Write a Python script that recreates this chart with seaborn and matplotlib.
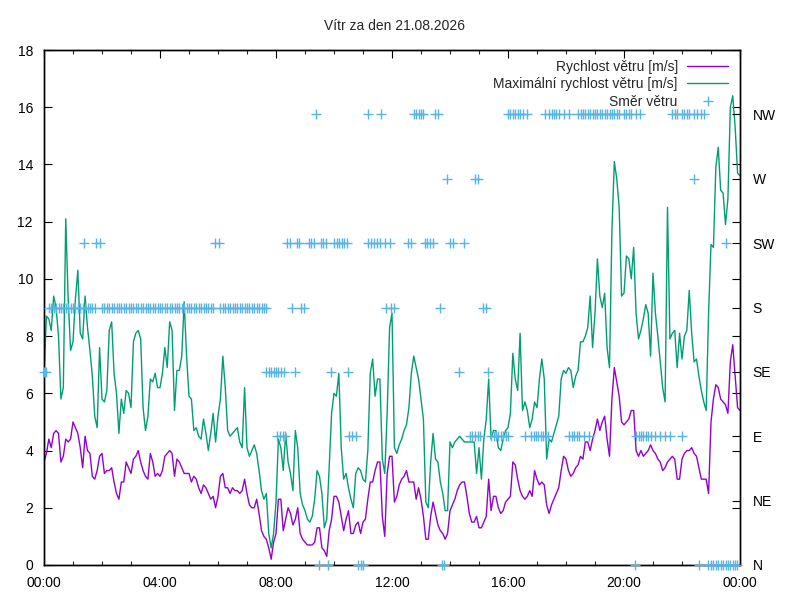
import numpy as np
import pandas as pd
import matplotlib
matplotlib.use("Agg")
import matplotlib.pyplot as plt
from matplotlib.lines import Line2D
import seaborn as sns

# ---- data (5-minute samples, minutes after midnight) ----
minutes = list(range(0, 1441, 5))

speed = [
    3.6, 3.9, 4.4, 4.1, 4.6, 4.7, 4.6, 3.6, 3.8, 4.4, 4.3, 4.4, 5.0, 4.8, 4.6, 4.1, 3.4, 4.5, 4.0, 3.9,
    3.1, 3.0, 3.3, 3.8, 3.9, 3.2, 3.3, 3.3, 3.4, 2.9, 2.5, 2.3, 2.9, 2.9, 3.6, 3.4, 3.2, 3.7, 3.8, 4.0,
    3.6, 3.3, 3.1, 3.0, 3.9, 3.6, 3.1, 3.2,
    3.1, 3.3, 3.8, 3.9, 4.0, 3.9, 3.1, 3.7, 3.6, 3.4, 3.2, 3.2, 3.2, 2.9, 3.1, 3.0, 2.7, 2.5, 2.8, 2.7,
    2.5, 2.3, 2.4, 2.0, 2.4, 3.1, 3.2, 2.7, 2.7, 2.5, 2.7, 2.6, 2.6, 2.5, 2.6, 3.0, 2.5, 2.1, 2.0, 2.0,
    2.3, 1.8, 1.2, 1.0, 0.9, 0.6, 0.2, 0.8,
    1.1, 2.3, 2.3, 1.2, 1.6, 2.0, 1.8, 1.4, 1.6, 2.0, 1.1, 0.9, 0.8, 0.7, 0.7, 0.7, 0.8, 1.3, 1.3, 0.6,
    0.5, 0.3, 1.2, 1.6, 2.4, 2.4, 2.2, 1.7, 1.2, 1.6, 1.9, 1.1, 1.1, 1.4, 1.5, 1.1, 1.5, 1.6, 2.3, 2.9,
    2.9, 3.3, 3.6, 3.6, 1.7, 1.0, 3.2, 3.8,
    3.8, 2.2, 2.4, 2.8, 3.0, 3.1, 3.3, 2.9, 2.9, 2.9, 2.3, 2.7, 2.3, 1.7, 0.9, 0.9, 1.7, 2.2, 1.8, 1.4,
    1.2, 1.1, 0.9, 1.1, 1.9, 2.1, 2.3, 2.6, 2.8, 2.9, 2.9, 2.4, 1.8, 1.5, 1.5, 1.7, 1.3, 1.3, 1.5, 1.7,
    3.0, 1.9, 2.4, 2.4, 2.0, 1.8, 1.9, 2.2,
    2.3, 2.4, 3.6, 3.5, 3.0, 2.6, 2.4, 2.3, 2.4, 2.6, 2.4, 3.3, 3.0, 2.8, 2.9, 2.8, 2.1, 1.8, 2.1, 2.3,
    2.5, 2.7, 3.3, 3.8, 3.7, 3.3, 3.1, 3.2, 3.4, 3.5, 3.8, 3.7, 4.3, 4.3, 4.0, 4.4, 4.7, 5.1, 4.7, 5.0,
    5.2, 4.4, 3.8, 5.8, 6.9, 6.4, 5.9, 5.0,
    4.9, 5.0, 5.1, 5.4, 5.4, 4.0, 3.8, 4.0, 3.8, 3.9, 4.0, 4.2, 4.0, 3.9, 3.7, 3.6, 3.3, 3.4, 3.6, 3.7,
    3.8, 3.7, 3.0, 3.0, 3.7, 3.9, 4.0, 4.0, 4.1, 3.9, 3.8, 3.4, 3.0, 3.0, 3.0, 2.5, 5.0, 5.8, 6.3, 6.2,
    5.8, 5.7, 5.6, 5.3, 7.1, 7.7, 6.6, 5.5, 5.4,
]

gust = [
    6.6, 8.7, 8.6, 8.2, 9.4, 9.0, 8.0, 5.8, 6.2, 12.1, 9.3, 7.5, 7.8, 9.3, 10.3, 8.1, 7.9, 9.4, 8.3, 7.5,
    6.6, 5.2, 4.8, 7.6, 5.8, 5.7, 6.1, 8.2, 8.5, 6.7, 6.0, 4.6, 5.8, 5.3, 6.1, 6.0, 5.5, 7.8, 8.1, 8.2,
    7.9, 5.5, 4.7, 5.2, 6.5, 6.4, 6.7, 6.2,
    6.2, 6.7, 7.6, 6.9, 8.5, 8.2, 5.4, 6.8, 6.8, 7.3, 9.2, 7.3, 5.9, 5.8, 4.7, 4.8, 4.5, 4.4, 5.1, 4.6,
    4.0, 4.6, 5.3, 4.3, 5.2, 5.8, 7.3, 6.2, 4.7, 4.5, 4.6, 4.7, 4.8, 4.3, 4.1, 6.2, 4.1, 3.8, 4.0, 4.2,
    3.9, 3.3, 2.6, 2.3, 2.5, 1.1, 0.6, 1.1,
    2.2, 4.4, 4.1, 3.3, 4.6, 3.6, 3.2, 2.6, 4.7, 4.1, 2.5, 2.1, 1.9, 1.6, 1.5, 1.7, 2.3, 3.3, 3.1, 2.5,
    1.3, 1.6, 3.4, 5.3, 6.0, 5.9, 6.7, 4.1, 3.0, 3.2, 2.7, 2.3, 2.0, 3.2, 3.4, 3.3, 3.0, 2.9, 4.0, 6.7,
    7.2, 5.9, 6.5, 6.5, 3.7, 3.2, 5.3, 8.3,
    8.8, 4.1, 3.9, 4.2, 4.4, 4.7, 4.9, 5.5, 6.7, 7.3, 6.9, 6.5, 5.8, 5.1, 2.2, 2.0, 3.6, 4.6, 3.7, 3.6,
    2.9, 2.5, 1.9, 1.9, 4.3, 4.1, 4.3, 4.4, 4.5, 4.4, 4.3, 4.3, 4.3, 4.3, 4.3, 3.2, 4.1, 3.0, 4.4, 5.1,
    6.5, 4.4, 4.7, 4.7, 4.1, 4.0, 4.4, 4.7,
    4.8, 5.3, 7.4, 6.5, 6.1, 8.1, 5.4, 5.7, 5.4, 4.8, 5.1, 5.7, 5.5, 6.5, 7.2, 6.5, 3.7, 4.4, 4.3, 4.6,
    4.9, 5.2, 6.5, 6.8, 6.7, 6.9, 6.8, 6.2, 6.6, 6.8, 7.8, 7.8, 8.0, 8.3, 9.4, 7.6, 8.8, 10.7, 9.4, 9.0,
    9.5, 7.6, 6.9, 11.7, 14.1, 13.5, 12.5, 9.4,
    9.5, 10.8, 10.7, 10.0, 11.1, 8.8, 7.9, 8.2, 8.6, 9.1, 8.8, 7.3, 10.2, 8.8, 8.0, 7.1, 6.2, 5.7, 12.5, 7.9,
    8.1, 8.2, 6.9, 8.1, 7.2, 8.0, 8.2, 9.6, 8.1, 7.1, 7.2, 6.6, 6.1, 5.7, 5.4, 8.8, 11.2, 11.1, 13.9, 14.6,
    13.1, 13.0, 11.9, 12.8, 16.0, 16.4, 15.3, 13.7, 13.6,
]

# wind direction samples (minutes) per compass direction
dir_N = [568, 588, 650, 655, 660, 824, 828, 1222, 1356, 1374, 1380, 1385, 1390, 1395, 1400, 1405, 1410,
         1415, 1420, 1425, 1430, 1434]
dir_E = [482, 488, 494, 499, 630, 638, 645, 881, 886, 891, 897, 902, 925, 930, 935, 940, 945, 950, 955,
         960, 995, 1008, 1013, 1018, 1023, 1028, 1033, 1038, 1043, 1087, 1092, 1097, 1102, 1107, 1117, 1127,
         1225, 1230, 1235, 1240, 1245, 1250, 1255, 1265, 1275, 1285, 1295, 1320]
dir_SE = [0, 5, 460, 465, 470, 475, 480, 485, 490, 497, 519, 593, 628, 859, 919]
dir_S = [10, 15, 20, 25, 30, 35, 40, 45, 50, 55, 60, 65, 70, 75, 80, 85, 90, 95, 100, 105, 120, 125,
         130, 135, 140, 145, 150, 155, 160, 165, 170, 175, 180, 185, 190, 195, 200, 205, 210, 215, 220,
         225, 230, 235, 240, 245, 250, 255, 260, 265, 270, 275, 280, 285, 290, 295, 300, 305, 310, 315,
         320, 325, 330, 335, 340, 345, 350, 365, 370, 375, 380, 385, 390, 395, 400, 405, 410, 415, 420,
         425, 430, 435, 440, 445, 450, 455, 460, 514, 532, 538, 708, 718, 724, 819, 909, 915]
dir_SW = [82, 108, 115, 353, 363, 503, 508, 523, 528, 548, 553, 558, 573, 578, 583, 600, 606, 611, 616,
          621, 626, 671, 677, 683, 689, 696, 706, 716, 754, 759, 788, 793, 798, 804, 839, 846, 869, 1412]
dir_W = [834, 892, 897, 1344]
dir_NW = [563, 670, 697, 765, 770, 775, 780, 785, 808, 816, 960, 965, 970, 975, 980, 985, 990, 1000,
          1037, 1045, 1050, 1055, 1060, 1065, 1075, 1087, 1105, 1110, 1115, 1120, 1125, 1130, 1135, 1140,
          1145, 1150, 1155, 1160, 1165, 1170, 1175, 1180, 1185, 1190, 1200, 1205, 1210, 1215, 1225, 1233,
          1300, 1305, 1310, 1320, 1325, 1330, 1335, 1345, 1350, 1360, 1365]

dir_names = ["N", "NE", "E", "SE", "S", "SW", "W", "NW"]
dir_degrees = [0, 45, 90, 135, 180, 225, 270, 315]
xtick_minutes = [0, 240, 480, 720, 960, 1200, 1440]
xtick_labels = ["00:00", "04:00", "08:00", "12:00", "16:00", "20:00", "00:00"]

title = "Vítr za den 21.08.2026"
label_speed = "Rychlost větru [m/s]"
label_gust = "Maximální rychlost větru [m/s]"
label_dir = "Směr větru"

# ---- frames ----
n = min(len(minutes), len(speed), len(gust))
df = pd.DataFrame({"t": minutes[:n], "speed": speed[:n], "gust": gust[:n]})
dir_groups = {"N": dir_N, "E": dir_E, "SE": dir_SE, "S": dir_S, "SW": dir_SW, "W": dir_W, "NW": dir_NW}
rows = []
for name, times in dir_groups.items():
    deg = dir_degrees[dir_names.index(name)]
    for tt in times:
        rows.append((tt, deg))
ddf = pd.DataFrame(rows, columns=["t", "deg"])

# ---- style ----
sns.set_style("white")
plt.rcParams["font.family"] = ["Liberation Sans", "DejaVu Sans"]
plt.rcParams["font.size"] = 10

C_SPEED = "#9400D3"
C_GUST = "#009E73"
C_DIR = "#56B4E9"

fig = plt.figure(figsize=(8, 6), dpi=100)
ax = fig.add_axes([44 / 800, 35 / 600, 696 / 800, 515 / 600])
ax2 = ax.twinx()

sns.lineplot(data=df, x="t", y="speed", ax=ax, color=C_SPEED, lw=1.0, estimator=None, legend=False)
sns.lineplot(data=df, x="t", y="gust", ax=ax, color=C_GUST, lw=1.0, estimator=None, legend=False)
sns.scatterplot(data=ddf, x="t", y="deg", ax=ax2, marker="+", color=C_DIR, s=42, linewidth=1.0,
                legend=False, clip_on=False, zorder=3)

ax.set_xlim(0, 1440)
ax.set_ylim(0, 18)
ax2.set_ylim(0, 360)

ax.set_xticks(xtick_minutes)
ax.set_xticklabels(xtick_labels)
ax.set_xticks(list(range(0, 1441, 60)), minor=True)
ax.set_yticks(list(range(0, 19, 2)))
ax2.set_yticks(dir_degrees)
ax2.set_yticklabels(dir_names)

ax.set_xlabel("")
ax.set_ylabel("")
ax2.set_ylabel("")

for a in (ax, ax2):
    for sp in a.spines.values():
        sp.set_visible(True)
        sp.set_color("black")
        sp.set_linewidth(1.0)

ax.tick_params(axis="both", which="major", direction="in", length=6, width=0.8, top=True, right=True,
               labelsize=10, colors="black")
ax.tick_params(axis="x", which="minor", direction="in", length=3, width=0.8, top=True, bottom=True)
ax.tick_params(axis="x", which="major", pad=8)
ax.tick_params(axis="y", which="major", pad=8)
ax2.tick_params(axis="y", which="major", direction="in", length=6, width=0.8, right=True, left=False,
                labelsize=10, pad=9, colors="black")

fig.text(395 / 800, 1 - 26 / 600, title, ha="center", va="center", fontsize=10)

handles = [
    Line2D([], [], color=C_SPEED, lw=1.0),
    Line2D([], [], color=C_GUST, lw=1.0),
    Line2D([], [], color=C_DIR, lw=0, marker="+", markersize=6.5, markeredgewidth=1.0),
]
leg = ax2.legend(handles, [label_speed, label_gust, label_dir], loc="upper right",
                 bbox_to_anchor=(1 - 6 / 696, 1 - 4 / 515), frameon=False, markerfirst=False,
                 handlelength=3.0, handletextpad=0.65, labelspacing=0.25, borderaxespad=0,
                 fontsize=10)

fig.savefig("out.png", dpi=100, facecolor="white")
